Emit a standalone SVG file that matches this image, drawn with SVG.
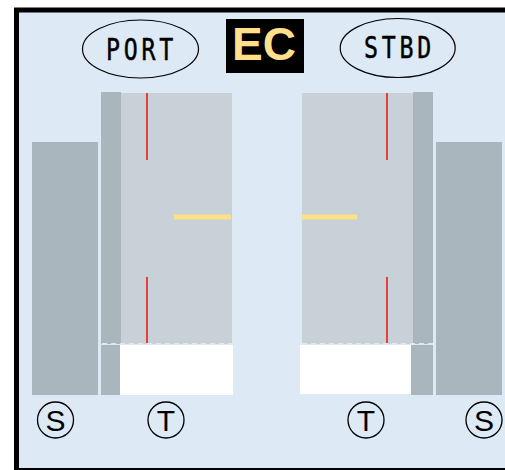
<svg xmlns="http://www.w3.org/2000/svg" width="505" height="470" viewBox="0 0 505 470">
<style>
.bg{fill:#DDE9F5;stroke:#000;stroke-width:5}
.dark{fill:#A9B6BD}
.light{fill:#C9D1D8}
.white{fill:#FFFFFF}
.red{stroke:#E8413C;stroke-width:2}
.yel{stroke:#FFE08A;stroke-width:5}
.dash{stroke:#E4E8EC;stroke-width:2;stroke-dasharray:5 4}
.oval{fill:none;stroke:#000;stroke-width:1.2}
.lbl{font-family:"DejaVu Sans Mono","Liberation Mono",monospace;font-size:31px;letter-spacing:5px;fill:#000;stroke:#000;stroke-width:0.5;text-anchor:middle}
.circ{fill:none;stroke:#000;stroke-width:1.3}
.ct{font-family:"Liberation Sans",Arial,sans-serif;font-size:30px;fill:#000;text-anchor:middle}
.ec{font-family:"Liberation Sans",Arial,sans-serif;font-weight:bold;font-size:46px;fill:#FFDF8A;text-anchor:middle}
</style>
<rect class="bg" x="16.5" y="10" width="500" height="460.5"/>
<g id="port-label">
<ellipse class="oval" cx="140.5" cy="49" rx="58" ry="29"/>
<text class="lbl" transform="translate(141.5,60) scale(0.75,1)">PORT</text>
</g>
<g id="stbd-label">
<ellipse class="oval" cx="397.7" cy="48" rx="57.5" ry="29.5"/>
<text class="lbl" transform="translate(399.5,58) scale(0.75,1)">STBD</text>
</g>
<g id="ec">
<rect x="226" y="19" width="78" height="54" fill="#000"/>
<text class="ec" x="264" y="60">EC</text>
</g>
<g id="port-side">
<rect class="dark" x="32" y="142" width="66" height="253"/>
<rect class="dark" x="101" y="92" width="20" height="252"/>
<rect class="dark" x="101" y="345" width="19" height="50"/>
<rect class="light" x="121" y="93" width="111" height="251"/>
<rect class="white" x="120" y="345" width="113" height="50"/>
<line class="dash" x1="102" y1="344" x2="233" y2="344"/>
<line class="red" x1="147" y1="93" x2="147" y2="160"/>
<line class="red" x1="147" y1="277" x2="147" y2="343"/>
<line class="yel" x1="174" y1="217" x2="231" y2="217"/>
</g>
<g id="stbd-side">
<rect class="dark" x="436" y="142" width="66" height="253"/>
<rect class="dark" x="413" y="92" width="20" height="252"/>
<rect class="dark" x="411" y="345" width="22" height="50"/>
<rect class="light" x="302" y="93" width="111" height="251"/>
<rect class="white" x="300" y="345" width="111" height="49"/>
<line class="dash" x1="302" y1="344" x2="433" y2="344"/>
<line class="red" x1="387" y1="93" x2="387" y2="160"/>
<line class="red" x1="387" y1="277" x2="387" y2="343"/>
<line class="yel" x1="301" y1="217" x2="357" y2="217"/>
</g>
<g id="s-left">
<circle class="circ" cx="55.5" cy="420" r="18"/>
<text class="ct" x="55.5" y="431">S</text>
</g>
<g id="t-left">
<circle class="circ" cx="166" cy="420" r="18"/>
<text class="ct" x="166" y="431">T</text>
</g>
<g id="t-right">
<circle class="circ" cx="366" cy="420" r="18"/>
<text class="ct" x="366" y="431">T</text>
</g>
<g id="s-right">
<circle class="circ" cx="484" cy="420" r="18"/>
<text class="ct" x="484" y="431">S</text>
</g>
</svg>
